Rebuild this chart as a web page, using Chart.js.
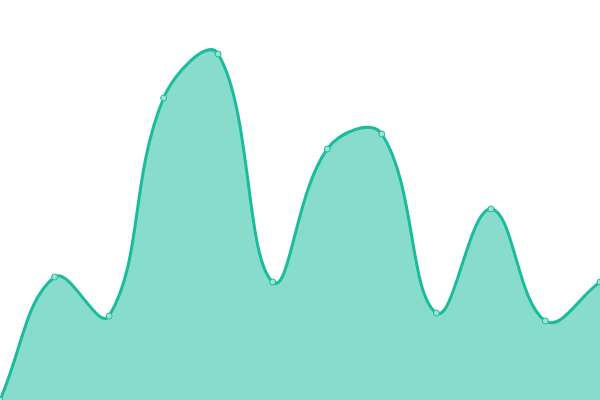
<!DOCTYPE html>
<html><head><meta charset="utf-8">
<script src="https://cdn.jsdelivr.net/npm/chart.js@4"></script>
<style>html,body{margin:0;padding:0;background:#fff}#wrap{width:600px;height:400px}</style>
</head><body><div id="wrap"><canvas id="c"></canvas></div>
<script>
const labels = ["1","2","3","4","5","6","7","8","9","10","11","12"];
const values = [0, 30.75, 21, 75.5, 86.5, 29.5, 62.75, 66.5, 21.75, 47.75, 19.75, 29.5];
new Chart(document.getElementById('c'), {
  type: 'line',
  data: { labels: labels, datasets: [{
    data: values,
    borderColor: '#1abc9c',
    backgroundColor: 'rgba(26,188,156,0.52)',
    pointBackgroundColor: '#9be4d5',
    pointBorderColor: '#1abc9c',
    pointBorderWidth: 1,
    pointRadius: 3,
    borderWidth: 3,
    tension: 0.4,
    fill: true
  }]},
  options: {
    responsive: true, maintainAspectRatio: false, animation: false,
    layout: { padding: 0, autoPadding: false },
    plugins: { legend: { display: false }, tooltip: { enabled: false } },
    scales: {
      x: { display: false, offset: false },
      y: { display: false, min: 0, max: 100 }
    }
  }
});
</script></body></html>
